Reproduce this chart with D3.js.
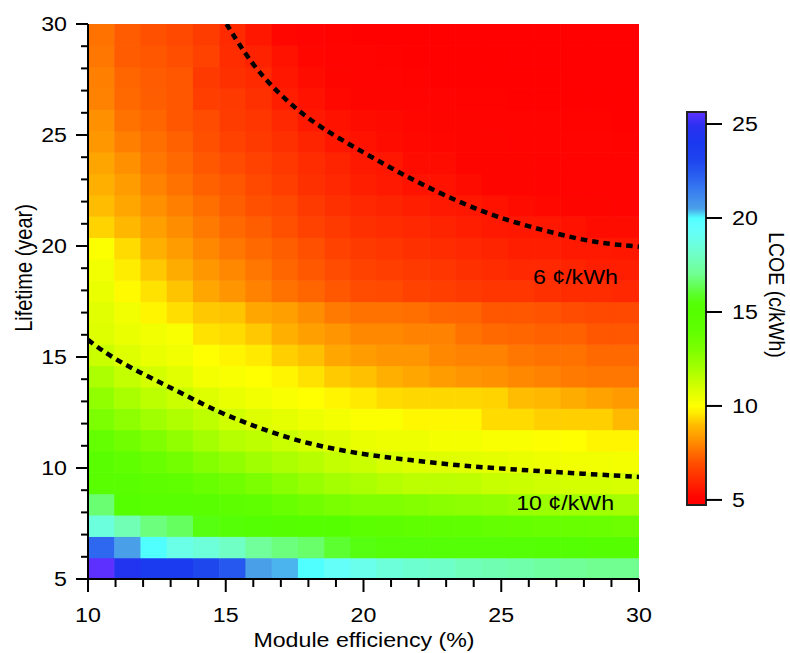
<!DOCTYPE html>
<html>
<head>
<meta charset="utf-8">
<script src="https://cdn.jsdelivr.net/npm/d3@7"></script>
<style>
  html, body { margin: 0; padding: 0; background: #fff; }
  svg { display: block; }
  text { font-family: "Liberation Sans", Arial, Helvetica, sans-serif; fill: #000; }
</style>
</head>
<body>
<svg id="chart" width="790" height="653"></svg>
<script>
// Grid axes: module efficiency (%) and module lifetime (years)
const efficiency = [10, 11, 12, 13, 14, 15, 16, 17, 18, 19, 20, 21, 22, 23, 24, 25, 26, 27, 28, 29, 30];
const lifetime = [5, 6, 7, 8, 9, 10, 11, 12, 13, 14, 15, 16, 17, 18, 19, 20, 21, 22, 23, 24, 25, 26, 27, 28, 29, 30];

// LCOE (¢/kWh) per lifetime, one value per efficiency step
const rowL05 = [25.6, 24.5, 23.8, 23.8, 23.0, 22.5, 20.5, 20.4, 20.0, 19.3, 18.9, 18.5, 18.3, 18.1, 17.8, 17.65, 17.5, 17.3, 17.15, 17.0, 17.0];
const rowL06 = [22.0, 20.5, 20.0, 18.8, 18.5, 18.0, 17.2, 16.8, 16.6, 16.0, 15.6, 15.5, 15.5, 15.4, 15.4, 15.3, 15.3, 15.2, 15.2, 15.1, 15.1];
const rowL07 = [18.6, 17.7, 16.8, 16.5, 15.6, 15.3, 15.2, 15.1, 15.0, 14.9, 14.4, 14.3, 14.1, 14.0, 14.0, 13.85, 13.8, 13.7, 13.7, 13.65, 13.55];
const rowL08 = [16.7, 15.0, 14.8, 14.7, 14.6, 14.3, 14.0, 13.7, 13.4, 13.1, 12.9, 12.9, 12.8, 12.65, 12.55, 12.45, 12.3, 12.2, 12.1, 12.1, 12.0];
const rowL09 = [14.6, 14.6, 14.3, 14.0, 13.7, 13.4, 13.0, 12.65, 12.3, 12.0, 11.85, 11.65, 11.5, 11.5, 11.45, 11.25, 11.2, 11.1, 11.0, 11.0, 10.9];
const rowL10 = [14.6, 14.0, 13.7, 13.3, 12.8, 12.45, 12.1, 11.85, 11.6, 11.35, 11.2, 10.9, 10.8, 10.75, 10.7, 10.6, 10.5, 10.4, 10.3, 10.3, 10.25];
const rowL11 = [13.85, 13.4, 12.9, 12.45, 12.0, 11.65, 11.45, 11.2, 10.9, 10.75, 10.5, 10.4, 10.4, 10.25, 10.25, 10.15, 10.15, 10.05, 10.0, 9.8, 9.8];
const rowL12 = [13.0, 12.55, 12.1, 11.75, 11.45, 11.1, 10.8, 10.6, 10.4, 10.25, 10.1, 10.1, 9.85, 9.85, 9.85, 9.4, 9.4, 9.25, 9.25, 9.25, 8.95];
const rowL13 = [12.45, 11.9, 11.5, 11.2, 10.8, 10.5, 10.3, 10.15, 10.0, 9.8, 9.6, 9.4, 9.35, 9.35, 9.35, 9.3, 9.0, 8.9, 8.7, 8.5, 8.35];
const rowL14 = [11.85, 11.35, 11.0, 10.7, 10.25, 10.15, 10.0, 9.8, 9.5, 9.2, 9.05, 8.75, 8.6, 8.4, 8.25, 8.15, 8.0, 7.9, 7.75, 7.7, 7.7];
const rowL15 = [11.2, 10.8, 10.5, 10.3, 10.0, 9.8, 9.6, 9.25, 9.05, 8.6, 8.4, 8.25, 8.25, 8.0, 7.9, 7.9, 7.7, 7.6, 7.6, 7.45, 7.45];
const rowL16 = [10.8, 10.5, 10.3, 10.15, 9.5, 9.4, 9.15, 8.75, 8.45, 8.25, 8.0, 8.0, 7.9, 7.9, 7.6, 7.45, 7.4, 7.3, 7.3, 7.1, 7.1];
const rowL17 = [10.7, 10.3, 9.8, 9.45, 9.15, 9.1, 8.6, 8.45, 8.1, 7.75, 7.6, 7.6, 7.55, 7.4, 7.35, 7.1, 7.1, 7.05, 6.9, 6.8, 6.8];
const rowL18 = [10.5, 9.9, 9.5, 9.1, 8.6, 8.25, 7.9, 7.6, 7.4, 7.15, 6.9, 6.85, 6.65, 6.55, 6.45, 6.35, 6.35, 6.2, 6.1, 6.1, 6.0];
const rowL19 = [10.3, 9.65, 9.15, 8.7, 8.3, 8.0, 7.7, 7.4, 7.15, 6.9, 6.65, 6.55, 6.45, 6.35, 6.2, 6.1, 6.0, 6.0, 5.9, 5.8, 5.8];
const rowL20 = [10.1, 9.4, 8.75, 8.4, 8.0, 7.7, 7.45, 7.25, 7.0, 6.65, 6.45, 6.35, 6.2, 6.1, 6.0, 5.9, 5.8, 5.8, 5.65, 5.65, 5.6];
const rowL21 = [9.3, 8.9, 8.45, 8.1, 7.75, 7.45, 7.25, 7.0, 6.65, 6.45, 6.2, 6.1, 6.0, 5.9, 5.8, 5.65, 5.6, 5.6, 5.5, 5.35, 5.35];
const rowL22 = [9.0, 8.6, 8.15, 7.85, 7.55, 7.25, 7.0, 6.8, 6.45, 6.2, 6.0, 5.9, 5.8, 5.65, 5.6, 5.5, 5.35, 5.25, 5.15, 5.1, 5.05];
const rowL23 = [8.75, 8.4, 7.9, 7.6, 7.3, 7.1, 6.8, 6.55, 6.2, 6.0, 5.8, 5.65, 5.5, 5.5, 5.35, 5.15, 5.1, 5.05, 5.05, 5.0, 5.0];
const rowL24 = [8.55, 8.15, 7.7, 7.45, 7.15, 6.9, 6.65, 6.4, 6.1, 5.9, 5.65, 5.6, 5.35, 5.35, 5.15, 5.1, 5.1, 5.05, 5.05, 5.0, 5.0];
const rowL25 = [8.3, 7.85, 7.55, 7.3, 7.0, 6.65, 6.45, 6.2, 5.9, 5.6, 5.5, 5.35, 5.25, 5.2, 5.15, 5.1, 5.05, 5.05, 5.0, 5.0, 4.95];
const rowL26 = [8.15, 7.6, 7.4, 7.1, 6.9, 6.5, 6.35, 6.0, 5.65, 5.5, 5.35, 5.3, 5.2, 5.15, 5.1, 5.05, 5.0, 5.0, 4.95, 4.95, 4.9];
const rowL27 = [7.9, 7.45, 7.25, 7.1, 6.55, 6.45, 6.2, 5.8, 5.5, 5.25, 5.15, 5.1, 5.05, 5.0, 4.95, 4.95, 4.9, 4.9, 4.85, 4.85, 4.85];
const rowL28 = [7.85, 7.4, 7.2, 7.1, 6.45, 6.2, 6.05, 5.6, 5.35, 5.15, 5.05, 5.0, 4.95, 4.9, 4.9, 4.85, 4.85, 4.85, 4.8, 4.8, 4.8];
const rowL29 = [7.7, 7.2, 7.1, 6.95, 6.65, 6.1, 5.85, 5.5, 5.2, 5.0, 5.0, 4.95, 4.9, 4.9, 4.85, 4.85, 4.8, 4.8, 4.8, 4.75, 4.75];
const rowL30 = [7.6, 7.2, 7.0, 6.8, 6.5, 6.05, 5.6, 5.2, 5.0, 4.95, 4.9, 4.9, 4.85, 4.85, 4.8, 4.8, 4.8, 4.75, 4.75, 4.75, 4.75];
const lcoeRows = [rowL05, rowL06, rowL07, rowL08, rowL09, rowL10, rowL11, rowL12, rowL13, rowL14, rowL15, rowL16, rowL17,
                  rowL18, rowL19, rowL20, rowL21, rowL22, rowL23, rowL24, rowL25, rowL26, rowL27, rowL28, rowL29, rowL30];

// Iso-LCOE contour lines: lifetime reached at each efficiency
const contour6Level = 6;
const contour6Eff  = [15.03, 15.46, 16.12, 17.15, 18.36, 20.05, 21.44, 22.9, 24.71, 27.13, 28.58, 30];
const contour6Life = [30, 29.13, 27.93, 26.58, 25.38, 24.18, 23.2, 22.3, 21.32, 20.5, 20.12, 19.97];
const contour10Level = 10;
const contour10Eff  = [10, 10.98, 12.8, 13.88, 14.97, 16.42, 17.88, 20.0, 21.69, 23.5, 25.32, 27.13, 30];
const contour10Life = [15.77, 14.86, 13.74, 13.06, 12.39, 11.71, 11.11, 10.6, 10.36, 10.1, 9.95, 9.8, 9.6];

// Ticks
const xMajorTicks = [10, 15, 20, 25, 30];
const xMinorTicks = [11, 12, 13, 14, 16, 17, 18, 19, 21, 22, 23, 24, 26, 27, 28, 29];
const yMajorTicks = [5, 10, 15, 20, 25, 30];
const yMinorTicks = [6, 7, 8, 9, 11, 12, 13, 14, 16, 17, 18, 19, 21, 22, 23, 24, 26, 27, 28, 29];
const colorbarTicks = [5, 10, 15, 20, 25];
const colorbarDomain = [4.73, 25.64];

// Rainbow colour map (value -> colour)
const cmapValues = [4.7, 5.2, 6.0, 7.0, 8.0, 9.0, 9.6, 10.0, 11.0, 12.0, 13.0, 14.0, 15.0, 15.5, 16.0, 17.0, 18.0, 19.0, 19.6, 20.0, 20.5, 21.4, 22.2, 23.1, 24.0, 24.9, 25.5, 25.7];
const cmapColors = ["#ff0000", "#ff0600", "#ff2800", "#ff5000", "#ff8800", "#ffbc00", "#ffea00", "#ffff00",
                    "#d4ff00", "#a4ff00", "#7cff00", "#60ff00", "#55ff00", "#55ff08", "#5cff30", "#70ff90",
                    "#70ffc4", "#68fff0", "#60ffff", "#50ffff", "#4aa0e8", "#3a7ff0", "#2a60f0", "#1e44ee",
                    "#1a38f0", "#2a30f0", "#5530ff", "#6630ff"];

const SX = 1.16;      // horizontal glyph stretch used by all labels
const FONT = 20;

const svg = d3.select("#chart");
const plot = { left: 88, right: 639, top: 24, bottom: 579 };

const x = d3.scaleLinear().domain([10, 30]).range([plot.left, plot.right]);
const y = d3.scaleLinear().domain([5, 30]).range([plot.bottom, plot.top]);
const xBand = d3.scaleBand().domain(efficiency).range([plot.left, plot.right]);
const yBand = d3.scaleBand().domain(lifetime).range([plot.bottom, plot.top]);
const color = d3.scaleLinear().domain(cmapValues).range(cmapColors).interpolate(d3.interpolateRgb).clamp(true);

function label(parent, px, py, str, anchor, rot, size) {
  return parent.append("text")
    .attr("transform", `translate(${px},${py}) scale(${SX},1)` + (rot ? ` rotate(${rot})` : ""))
    .attr("text-anchor", anchor)
    .attr("font-size", size || FONT)
    .text(str);
}

// Heatmap cells
svg.append("clipPath").attr("id", "plotClip")
  .append("rect").attr("x", plot.left).attr("y", plot.top)
  .attr("width", plot.right - plot.left).attr("height", plot.bottom - plot.top);

const cells = [];
lcoeRows.forEach((row, i) => row.forEach((v, j) => cells.push({ eff: efficiency[j], life: lifetime[i], v })));

svg.append("g").attr("clip-path", "url(#plotClip)")
  .selectAll("rect").data(cells).join("rect")
  .attr("x", d => xBand(d.eff))
  .attr("y", d => yBand(d.life))
  .attr("width", xBand.bandwidth() + 0.6)
  .attr("height", yBand.bandwidth() + 0.6)
  .attr("fill", d => color(d.v));

// Contour lines
const line = d3.line().x(d => x(d[0])).y(d => y(d[1])).curve(d3.curveBasis);
const contours = [
  { level: contour6Level, pts: contour6Eff.map((e, i) => [e, contour6Life[i]]), at: [26.15, 18.29] },
  { level: contour10Level, pts: contour10Eff.map((e, i) => [e, contour10Life[i]]), at: [25.54, 8.11] }
];
const cg = svg.append("g").attr("clip-path", "url(#plotClip)");
contours.forEach(c => {
  cg.append("path").attr("d", line(c.pts))
    .attr("fill", "none").attr("stroke", "#000")
    .attr("stroke-width", 4.5).attr("stroke-dasharray", "6.5,5");
});
contours.forEach(c => label(svg, x(c.at[0]), y(c.at[1]), `${c.level} ¢/kWh`, "start"));

// Axes
function styleAxis(g) {
  g.selectAll("line, path").attr("stroke", "#000").attr("stroke-width", 2);
}
svg.append("g").attr("transform", `translate(0,${plot.bottom})`)
  .call(d3.axisBottom(x).tickValues(xMinorTicks).tickSize(8).tickFormat("").offset(0))
  .call(g => g.select(".domain").remove()).call(styleAxis);
svg.append("g").attr("transform", `translate(0,${plot.bottom})`)
  .call(d3.axisBottom(x).tickValues(xMajorTicks).tickSize(13).tickSizeOuter(0).tickFormat("").offset(0))
  .call(styleAxis);
svg.append("g").attr("transform", `translate(${plot.left},0)`)
  .call(d3.axisLeft(y).tickValues(yMinorTicks).tickSize(7).tickFormat("").offset(0))
  .call(g => g.select(".domain").remove()).call(styleAxis);
svg.append("g").attr("transform", `translate(${plot.left},0)`)
  .call(d3.axisLeft(y).tickValues(yMajorTicks).tickSize(12).tickSizeOuter(0).tickFormat("").offset(0))
  .call(styleAxis);

xMajorTicks.forEach(v => label(svg, x(v), 622, String(v), "middle"));
yMajorTicks.forEach(v => label(svg, 67, y(v) + 7, String(v), "end"));

label(svg, 364, 647, "Module efficiency (%)", "middle");
label(svg, 31.5, 268, "Lifetime (year)", "middle", -90);

// Colour bar
const cb = d3.scaleLinear().domain(colorbarDomain).range([505, 112]);
const grad = svg.append("defs").append("linearGradient").attr("id", "cbGrad")
  .attr("x1", 0).attr("y1", 1).attr("x2", 0).attr("y2", 0);
cmapValues.forEach((v, i) => {
  const t = (v - colorbarDomain[0]) / (colorbarDomain[1] - colorbarDomain[0]);
  grad.append("stop").attr("offset", Math.max(0, Math.min(1, t))).attr("stop-color", cmapColors[i]);
});
svg.append("rect").attr("x", 687).attr("y", cb(colorbarDomain[1]))
  .attr("width", 19).attr("height", cb(colorbarDomain[0]) - cb(colorbarDomain[1]))
  .attr("fill", "url(#cbGrad)").attr("stroke", "#222").attr("stroke-width", 2);
svg.append("g").attr("transform", "translate(706,0)")
  .call(d3.axisRight(cb).tickValues(colorbarTicks).tickSize(16).tickFormat("").offset(0))
  .call(g => g.select(".domain").remove()).call(styleAxis);
colorbarTicks.forEach(v => label(svg, 732, cb(v) + 7, String(v), "start"));
label(svg, 769, 295, "LCOE (c/kWh)", "middle", 90, 19.5);
</script>
</body>
</html>
